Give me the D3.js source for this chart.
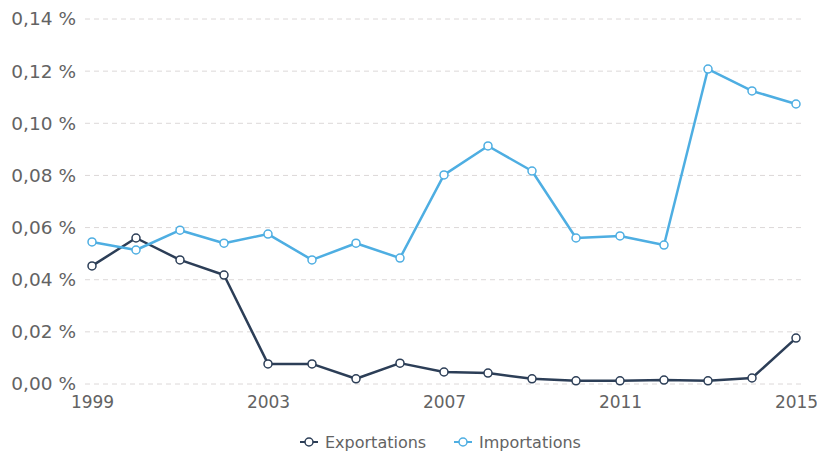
<!DOCTYPE html>
<html lang="fr">
<head>
<meta charset="UTF-8">
<title>Exportations / Importations</title>
<script src="https://d3js.org/d3.v7.min.js"></script>
<style>
    body { margin: 0; background: #fff; font-family: "DejaVu Sans", sans-serif; }
    #chart { width: 817px; height: 452px; }
</style>
</head>
<body>
<div id="chart"></div>
<script>
    // données
    const years = [1999, 2000, 2001, 2002, 2003, 2004, 2005, 2006, 2007, 2008, 2009, 2010, 2011, 2012, 2013, 2014, 2015];
    const exportations = [0.0453, 0.0560, 0.0476, 0.0418, 0.0077, 0.0077, 0.0020, 0.0080, 0.0046, 0.0042, 0.0020, 0.0012, 0.0012, 0.0015, 0.0012, 0.0023, 0.0176];
    const importations = [0.0545, 0.0514, 0.0590, 0.0540, 0.0575, 0.0476, 0.0540, 0.0483, 0.0802, 0.0913, 0.0817, 0.0560, 0.0568, 0.0533, 0.1208, 0.1124, 0.1074];
    const yTicks = [0, 0.02, 0.04, 0.06, 0.08, 0.10, 0.12, 0.14];
    const xTicks = [1999, 2003, 2007, 2011, 2015];

    const series = [
        { name: 'Exportations', values: exportations, color: '#2c3e57' },
        { name: 'Importations', values: importations, color: '#4eaee2' }
    ];

    const width = 817, height = 452;
    const svg = d3.select('#chart').append('svg')
        .attr('width', width)
        .attr('height', height);

    const x = d3.scaleLinear().domain([1999, 2015]).range([92, 796]);
    const y = d3.scaleLinear().domain([0, 0.14]).range([384, 19]);

    const fmt = v => d3.format('.2f')(v).replace('.', ',') + ' %';

    // grille
    svg.append('g')
        .selectAll('line')
        .data(yTicks)
        .enter()
        .append('line')
        .attr('x1', 85)
        .attr('x2', 803)
        .attr('y1', d => y(d))
        .attr('y2', d => y(d))
        .attr('stroke', '#dcd8d8')
        .attr('stroke-width', 1)
        .attr('stroke-dasharray', '5,4');

    // axe Y
    const yAxis = svg.append('g')
        .attr('transform', 'translate(80,0)')
        .call(d3.axisLeft(y).tickValues(yTicks).tickFormat(fmt).tickSize(0).tickPadding(4));
    yAxis.select('.domain').remove();
    yAxis.selectAll('text')
        .attr('fill', '#636363')
        .style('font-size', '18.5px')
        .style('font-family', '"DejaVu Sans", sans-serif');

    // axe X
    const xAxis = svg.append('g')
        .attr('transform', 'translate(0,392)')
        .call(d3.axisBottom(x).tickValues(xTicks).tickFormat(d3.format('d')).tickSize(0).tickPadding(4));
    xAxis.select('.domain').remove();
    xAxis.selectAll('text')
        .attr('fill', '#636363')
        .style('font-size', '17px')
        .style('font-family', '"DejaVu Sans", sans-serif');

    // lignes
    const line = d3.line()
        .x((d, i) => x(years[i]))
        .y(d => y(d));

    series.forEach(s => {
        svg.append('path')
            .datum(s.values)
            .attr('d', line)
            .attr('fill', 'none')
            .attr('stroke', s.color)
            .attr('stroke-width', 2.5)
            .attr('stroke-linejoin', 'round');

        svg.append('g')
            .selectAll('circle')
            .data(s.values)
            .enter()
            .append('circle')
            .attr('cx', (d, i) => x(years[i]))
            .attr('cy', d => y(d))
            .attr('r', 4)
            .attr('fill', '#fff')
            .attr('stroke', s.color)
            .attr('stroke-width', 1.5);
    });

    // légende
    const legendX = [309, 463];
    const legend = svg.append('g');
    series.forEach((s, i) => {
        const g = legend.append('g').attr('transform', `translate(${legendX[i]},442)`);
        g.append('line')
            .attr('x1', -9).attr('x2', 9)
            .attr('stroke', s.color).attr('stroke-width', 2);
        g.append('circle')
            .attr('r', 4)
            .attr('fill', '#fff')
            .attr('stroke', s.color)
            .attr('stroke-width', 1.5);
        g.append('text')
            .attr('x', 16)
            .attr('dy', '0.35em')
            .attr('fill', '#636363')
            .style('font-size', '16px')
            .text(s.name);
    });
</script>
</body>
</html>
